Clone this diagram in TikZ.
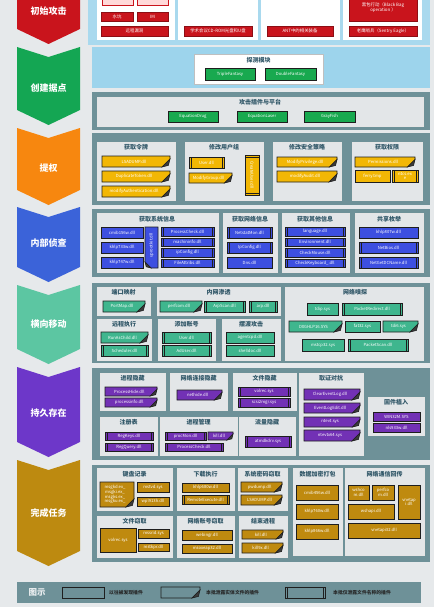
\documentclass[tikz,border=0pt]{standalone}
\usepackage{fontspec}
\setmainfont{Noto Sans CJK SC}
\usetikzlibrary{calc}
\definecolor{bgc}{HTML}{E6E9EB}
\definecolor{redc}{HTML}{C9141C}
\definecolor{grnc}{HTML}{18A94F}
\definecolor{yelc}{HTML}{F2B705}
\definecolor{bluc}{HTML}{3D4FE0}
\definecolor{mntc}{HTML}{3FB68E}
\definecolor{purc}{HTML}{7231B5}
\definecolor{gldc}{HTML}{BF8A0F}
\definecolor{chgrn}{HTML}{14A653}
\definecolor{chorg}{HTML}{F7870F}
\definecolor{chblu}{HTML}{3B63D9}
\definecolor{chmnt}{HTML}{5CC6A2}
\definecolor{chpur}{HTML}{6D37C9}
\definecolor{chgld}{HTML}{BD8A10}
\definecolor{bandc}{HTML}{6E9198}
\definecolor{innc}{HTML}{E3E6E8}
\definecolor{ttlc}{HTML}{2E5566}
\definecolor{lblue}{HTML}{A9D9EE}
\definecolor{lblue2}{HTML}{9DD4EC}
\definecolor{flapc}{HTML}{3B3B3B}
\definecolor{bxd}{HTML}{1E1E1E}
\tikzset{
  bxl/.style={draw=bxd,line width=0.6pt},
  btx/.style={text=white,inner sep=0pt,align=center,font=\fontsize{4.2}{4.8}\selectfont},
  ttl/.style={text=ttlc,inner sep=0pt,font=\fontsize{6}{7}\selectfont\bfseries},
  chevt/.style={text=white,inner sep=0pt,font=\fontsize{9}{10}\selectfont\bfseries},
  ibx/.style={fill=innc,draw=white!80!gray,line width=0.4pt},
  redbox/.style={fill=redc,draw=redc!70!black,line width=0.5pt},
  lgt/.style={text=black!85,inner sep=0pt,anchor=west,font=\fontsize{4.8}{5.5}\selectfont\bfseries},
}
\newcount\bid
\def\bcol{yelc}
\newcommand\PB[5]{\draw[bxl,fill=\bcol] (#1,#2) rectangle (#3,#4);
  \global\advance\bid by 1
  \node[btx] (b\the\bid) at ({(#1+#3)/2},{(#2+#4)/2}) {#5};}
\newcommand\DB[5]{\draw[bxl,fill=\bcol] (#1,#2) rectangle (#3,#4);
  \draw[bxl] (#1+2,#2) -- (#1+2,#4) (#3-2,#2) -- (#3-2,#4);
  \global\advance\bid by 1
  \node[btx] (b\the\bid) at ({(#1+#3)/2},{(#2+#4)/2}) {#5};}
\newcommand\FB[5]{\pgfmathsetmacro\ff{min(0.75*(#4-#2),8)}
  \draw[bxl,fill=\bcol] (#1,#2) -- (#3,#2) -- (#3,#4-\ff) -- (#3-\ff,#4) -- (#1,#4) -- cycle;
  \draw[bxl,fill=flapc] (#3,#4-\ff) -- (#3-\ff,#4) -- (#3-0.2*\ff,#4-0.2*\ff) -- cycle;
  \global\advance\bid by 1
  \node[btx] (b\the\bid) at ({(#1+#3-\ff/2)/2},{(#2+#4)/2}) {#5};}
\newcommand\DBV[5]{\draw[bxl,fill=\bcol] (#1,#2) rectangle (#3,#4);
  \draw[bxl] (#1,#2+2) -- (#3,#2+2) (#1,#4-2) -- (#3,#4-2);
  \global\advance\bid by 1
  \node[btx,rotate=-90] (b\the\bid) at ({(#1+#3)/2},{(#2+#4)/2}) {#5};}
\newcommand\FBV[5]{\pgfmathsetmacro\ff{6}
  \draw[bxl,fill=\bcol] (#1,#2) -- (#3,#2) -- (#3,#4) -- (#1+\ff,#4) -- (#1,#4-\ff) -- cycle;
  \draw[bxl,fill=flapc] (#1,#4-\ff) -- (#1+\ff,#4) -- (#1+0.2*\ff,#4-0.2*\ff) -- cycle;
  \global\advance\bid by 1
  \node[btx,rotate=90] (b\the\bid) at ({(#1+#3)/2},{(#2+#4)/2-2}) {#5};}
\newcommand\IB[4]{\draw[ibx] (#1,#2) rectangle (#3,#4);}
\newcommand\TT[3]{\global\advance\bid by 1
  \node[ttl] (t\the\bid) at (#1,#2) {#3};}
\newcommand\RB[5]{\draw[redbox] (#1,#2) rectangle (#3,#4);
  \global\advance\bid by 1
  \node[btx,font=\fontsize{4.4}{5.2}\selectfont] (r\the\bid) at ({(#1+#3)/2},{(#2+#4)/2}) {#5};}
\newcommand\chev[5]{\fill[#3] (17,#1) -- (48.5,#1+10) -- (80,#1) -- (80,#2-15) -- (48.5,#2) -- (17,#2-15) -- cycle;
  \global\advance\bid by 1
  \node[chevt] (c\the\bid) at (48.5,#5) {#4};}
\begin{document}
\begin{tikzpicture}[x=1pt,y=-1pt]
\useasboundingbox (0,0) rectangle (434,607);
\clip (0,0) rectangle (434,607);
\fill[bgc] (0,0) rectangle (434,607);
% chevrons
\chev{-15}{44}{redc}{初始攻击}{11}
\chev{47}{125}{chgrn}{创建据点}{88}
\chev{128}{205}{chorg}{提权}{168}
\chev{207}{282}{chblu}{内部侦查}{243}
\chev{285}{364}{chmnt}{横向移动}{324}
\chev{367}{457}{chpur}{持久存在}{413}
\chev{460}{566}{chgld}{完成任务}{513}
% ---------- initial attack
\fill[lblue] (88,-5) rectangle (430,45);
\fill[white] (97,-5) rectangle (175,40);
\fill[white] (178,-5) rectangle (258,40);
\fill[white] (261,-5) rectangle (340,40);
\fill[white] (343,-5) rectangle (422,40);
\draw[redc,fill=red!15] (102,-6) rectangle (133,5);
\draw[redc,fill=red!15] (137,-6) rectangle (168,5);
\RB{101}{12}{133}{21}{水坑}
\RB{137}{12}{168}{21}{IM}
\RB{101}{26}{168}{36}{远程漏洞}
\RB{184}{26}{252}{36}{学术会议CD-ROM光盘和U盘}
\RB{267}{26}{333}{36}{ANT中的相关装备}
\RB{349}{-5}{417}{21}{黑包行动（Black Bag\\operation ）}
\RB{349}{26}{417}{36}{老鹰哨兵（Sentry Eagle）}
% ---------- foothold
\fill[lblue2] (92,47) rectangle (430,88);
\draw[fill=white,draw=gray!50] (194,54) rectangle (323,84);
\TT{258.5}{60}{探测模块}
\def\bcol{grnc}
\PB{205}{68}{255}{80}{TripleFantasy}
\PB{265}{68}{316}{80}{DoubleFantasy}
\fill[bandc] (92,92) rectangle (430,130);
\IB{97}{97}{423}{126}
\TT{260}{102}{攻击插件与平台}
\PB{168}{111}{218}{122}{EquationDrug}
\PB{237}{111}{287}{122}{EquationLaser}
\PB{304}{111}{355}{122}{GrayFish}
% ---------- privilege
\fill[bandc] (92,133) rectangle (430,205);
\IB{97}{142}{175}{200}\TT{136}{147}{获取令牌}
\IB{185}{142}{263}{200}\TT{224}{147}{修改用户组}
\IB{273}{142}{341}{200}\TT{307}{147}{修改安全策略}
\IB{352}{142}{422}{200}\TT{387}{147}{获取权限}
\def\bcol{yelc}
\FB{102}{156}{170}{167}{LSADUMP.dll}
\FB{102}{171}{170}{182}{DuplicateToken.dll}
\FB{102}{186}{170}{197}{modifyAuthentication.dll}
\DB{189}{157}{224}{168}{User.dll}
\FB{189}{173}{232}{183}{ModifyGroup.dll}
\DBV{245}{155}{259}{195}{CreateUser.dll}
\FB{277}{157}{337}{167}{ModifyPrivilege.dll}
\FB{277}{171}{337}{182}{modifyAudit.dll}
\FB{355}{157}{415}{167}{Permissions.dll}
\PB{355}{170}{390}{182}{ferry.tmp}
\DB{392}{170}{418}{182}{ntcs.ex\\e}
% ---------- recon
\fill[bandc] (92,209) rectangle (430,277);
\IB{97}{213}{218}{272}\TT{157}{219}{获取系统信息}
\IB{223}{213}{277}{272}\TT{250}{219}{获取网络信息}
\IB{282}{213}{349}{272}\TT{315}{219}{获取其他信息}
\IB{355}{213}{423}{272}\TT{389}{219}{共享枚举}
\def\bcol{bluc}
\PB{101}{227}{143}{238}{cmib156w.dll}
\PB{101}{242}{143}{253}{khlp733w.dll}
\PB{101}{257}{143}{268}{khlp747w.dll}
\FBV{145}{227}{158}{268}{uprootkit.dll}
\DB{161}{227}{214}{236}{ProcessCheck.dll}
\DB{161}{238}{214}{246}{machininfo.dll}
\DB{161}{248}{214}{257}{ipConfig.dll}
\DB{161}{259}{214}{267}{FileAttribs.dll}
\DB{227}{227}{272}{238}{NetstatMon.dll}
\DB{227}{242}{272}{253}{IpConfig.dll}
\PB{227}{257}{272}{268}{Dns.dll}
\DB{285}{227}{345}{236}{language.dll}
\DB{285}{238}{345}{246}{Environment.dll}
\DB{285}{248}{345}{257}{CheckMouse.dll}
\DB{285}{259}{345}{267}{CheckKeyboard\_.dll}
\PB{359}{227}{418}{238}{khlp807w.dll}
\DB{359}{242}{418}{253}{NetBios.dll}
\DB{359}{257}{418}{268}{NetGetDCName.dll}
% ---------- lateral
\fill[bandc] (92,283) rectangle (430,363);
\IB{97}{287}{150}{315}\TT{123.5}{292}{端口映射}
\IB{157}{287}{280}{315}\TT{218.5}{292}{内网渗透}
\IB{285}{287}{423}{360}\TT{355}{292}{网络嗅探}
\IB{97}{319}{151}{360}\TT{124}{324}{远程执行}
\IB{158}{319}{215}{360}\TT{186.5}{324}{添加账号}
\IB{222}{319}{280}{360}\TT{251}{324}{摆渡攻击}
\def\bcol{mntc}
\FB{103}{301}{145}{312}{PortMap.dll}
\FB{160}{301}{202}{312}{perfcom.dll}
\DB{204}{301}{245}{312}{ArpScan.dll}
\DB{249}{301}{277}{312}{arp.dll}
\PB{307}{303}{338}{315}{tdip.sys}
\DB{342}{303}{402}{315}{PacketRedirect.dll}
\FB{289}{321}{342}{332}{DXGHLP16.SYS}
\PB{345}{321}{380}{332}{fat32.sys}
\FB{383}{321}{418}{332}{tdi6.sys}
\PB{302}{339}{344}{351}{mstcp32.sys}
\DB{348}{339}{408}{351}{PacketScan.dll}
\FB{101}{332}{148}{343}{RunAsChild.dll}
\DB{101}{345}{148}{356}{Scheduler.dll}
\DB{162}{332}{211}{343}{User.dll}
\DB{162}{345}{211}{356}{AdUser.dll}
\PB{226}{332}{274}{343}{agentcpd.dll}
\PB{226}{345}{274}{356}{shelldoc.dll}
% ---------- persistence
\fill[bandc] (92,368) rectangle (430,460);
\IB{100}{373}{165}{410}\TT{132.5}{378}{进程隐藏}
\IB{170}{373}{227}{410}\TT{198.5}{378}{网络连接隐藏}
\IB{233}{373}{296}{410}\TT{264.5}{378}{文件隐藏}
\IB{299}{373}{363}{455}\TT{331}{378}{取证对抗}
\IB{368}{397}{424}{435}\TT{396}{402}{固件植入}
\IB{100}{417}{157}{455}\TT{128.5}{422}{注册表}
\IB{160}{417}{237}{455}\TT{198.5}{422}{进程管理}
\IB{239}{417}{295}{455}\TT{267}{422}{流量隐藏}
\def\bcol{purc}
\FB{105}{387}{157}{396}{ProcessHide.dll}
\FB{105}{398}{157}{407}{processinfo.dll}
\FB{177}{390}{222}{400}{nethide.dll}
\DB{238}{387}{290}{396}{volrec.sys}
\DB{238}{398}{290}{407}{scsi2mgr.sys}
\FB{304}{389}{360}{400}{ClearEventLog.dll}
\FB{304}{403}{360}{413}{EventLogEdit.dll}
\FB{304}{417}{360}{427}{ntevt.sys}
\FB{304}{430}{360}{441}{ntevtx64.sys}
\PB{373}{412}{420}{421}{WIN32M.SYS}
\PB{373}{423}{420}{432}{nls933w.dll}
\DB{105}{432}{153}{440}{RegKeys.dll}
\DB{105}{443}{153}{451}{RegQuery.dll}
\DB{165}{432}{206}{440}{procMon.dll}
\FB{208}{432}{233}{440}{kill.dll}
\DB{165}{443}{223}{451}{ProcessCheck.dll}
\DB{245}{436}{291}{447}{atmdkdrv.sys}
% ---------- complete
\fill[bandc] (92,465) rectangle (430,562);
\IB{97}{468}{172}{510}\TT{134.5}{474}{键盘记录}
\IB{177}{468}{234}{510}\TT{205.5}{474}{下载执行}
\IB{238}{468}{287}{510}\TT{262.5}{474}{系统密码窃取}
\IB{293}{468}{342}{555}\TT{317.5}{474}{数据加密打包}
\IB{345}{468}{424}{555}\TT{384.5}{474}{网络通信回传}
\IB{97}{516}{172}{557}\TT{134.5}{521}{文件窃取}
\IB{177}{516}{234}{557}\TT{205.5}{521}{网络账号窃取}
\IB{239}{516}{287}{557}\TT{263}{521}{结束进程}
\def\bcol{gldc}
\FB{100}{482}{134}{507}{msgkd.ex\_\\msgki.ex\_\\msgks.ex\_\\msgku.ex\_}
\PB{137}{482}{169}{492}{mstvd.sys}
\PB{137}{497}{169}{506}{wpl913h.dll}
\PB{182}{483}{229}{492}{khlp680w.dll}
\DB{182}{495}{229}{504}{RemoteExecute.dll}
\FB{241}{482}{282}{492}{pwdump.dll}
\FB{241}{495}{282}{505}{LSADUMP.dll}
\PB{296}{485}{338}{500}{cmib456w.dll}
\PB{296}{504}{338}{519}{khlp760w.dll}
\PB{296}{524}{338}{539}{khlp866w.dll}
\PB{348}{485}{369}{500}{wshco\\m.dll}
\PB{372}{485}{394}{500}{perfco\\m.dll}
\PB{398}{485}{420}{519}{vnetap\\i.dll}
\PB{348}{504}{394}{519}{wshapi.dll}
\PB{348}{523}{420}{538}{vnetapi32.dll}
\PB{100}{528}{136}{552}{volrec.sys}
\PB{138}{529}{169}{538}{mssrid.sys}
\PB{138}{543}{169}{551}{mstkpr.dll}
\PB{182}{530}{232}{540}{webingr.dll}
\PB{182}{544}{232}{553}{msoxeap32.dll}
\FB{242}{530}{283}{539}{kill.dll}
\FB{242}{543}{283}{553}{kill9x.dll}
% ---------- legend
\fill[bandc] (17,582) rectangle (421,603);
\node[text=white!90!ttlc,inner sep=0pt,font=\fontsize{8.5}{9}\selectfont\bfseries] (lg) at (37,592.5) {图示};
\def\bcol{bandc}
\PB{62}{587}{104}{598}{}
\node[lgt] (lg1) at (109,592.5) {以往被发现插件};
\FB{161}{587}{200}{598}{}
\node[lgt] (lg2) at (206,592.5) {本批泄露实体文件的插件};
\DB{285}{587}{325}{598}{}
\node[lgt] (lg3) at (333,592.5) {本批仅泄露文件名称的插件};
\end{tikzpicture}
\end{document}
